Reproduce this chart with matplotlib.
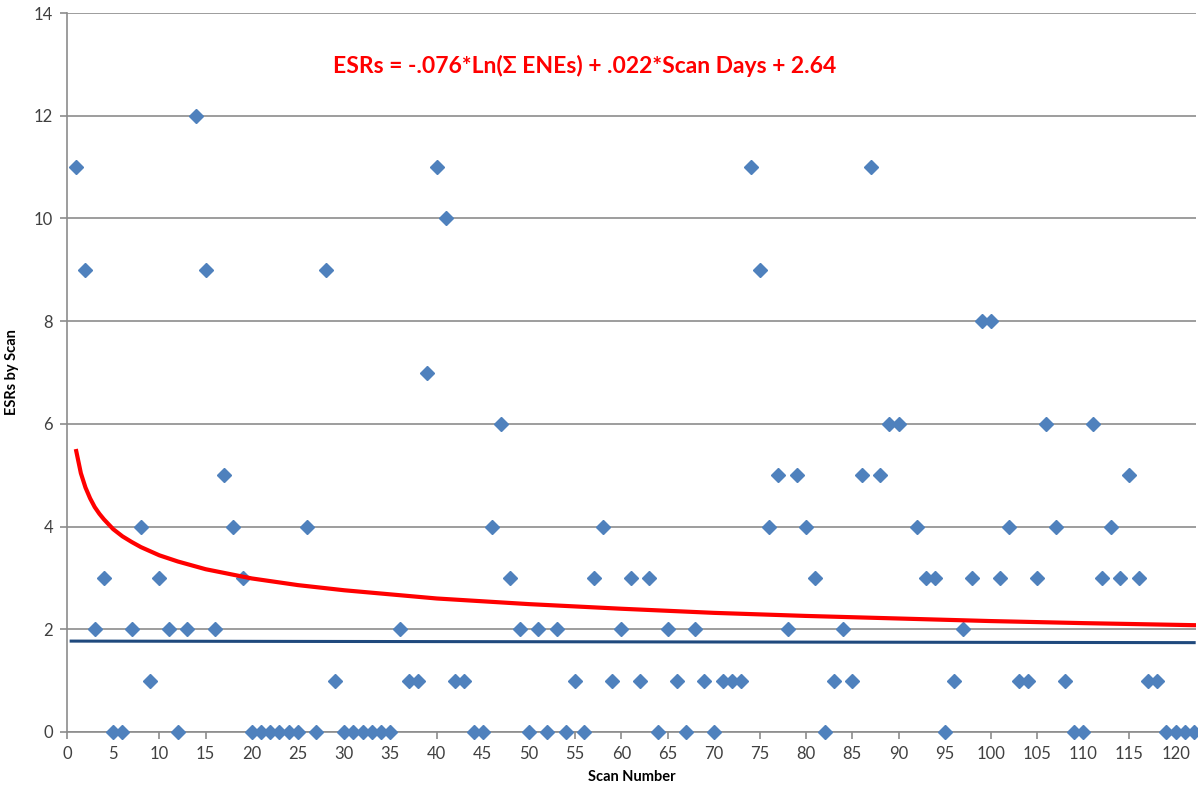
import numpy as np
import matplotlib
matplotlib.use("Agg")
from matplotlib import pyplot as plt

# ESRs per scan, scans 1..122 (scan 91 has no point)
scan = list(range(1, 123))
esrs = [11, 9, 2, 3, 0, 0, 2, 4, 1, 3,
        2, 0, 2, 12, 9, 2, 5, 4, 3, 0,
        0, 0, 0, 0, 0, 4, 0, 9, 1, 0,
        0, 0, 0, 0, 0, 2, 1, 1, 7, 11,
        10, 1, 1, 0, 0, 4, 6, 3, 2, 0,
        2, 0, 2, 0, 1, 0, 3, 4, 1, 2,
        3, 1, 3, 0, 2, 1, 0, 2, 1, 0,
        1, 1, 1, 11, 9, 4, 5, 2, 5, 4,
        3, 0, 1, 2, 1, 5, 11, 5, 6, 6,
        np.nan, 4, 3, 3, 0, 1, 2, 3, 8, 8,
        3, 4, 1, 1, 3, 6, 4, 1, 0, 0,
        6, 3, 4, 3, 5, 3, 1, 1, 0, 0,
        0, 0]

# red model curve
trend_x = [1, 1.5, 2, 2.5, 3, 3.5, 4, 5, 6, 7, 8, 10, 12, 15, 20, 25, 30, 40, 50,
           60, 70, 80, 90, 100, 110, 122]
trend_y = [5.47, 5.04, 4.76, 4.55, 4.38, 4.25, 4.14, 3.95, 3.81, 3.70, 3.60, 3.44,
           3.32, 3.17, 2.99, 2.86, 2.76, 2.60, 2.49, 2.40, 2.32, 2.26, 2.21, 2.16,
           2.12, 2.08]

# blue flat line
flat_x = [0.45, 122]
flat_y = [1.77, 1.74]

equation = "ESRs = -.076*Ln(\u03a3 ENEs) + .022*Scan Days + 2.64"

plt.rcParams['font.family'] = ['Lato', 'DejaVu Sans']

fig = plt.figure(figsize=(11.98, 7.86), dpi=100)
ax = fig.add_axes([67 / 1198, 1 - 732 / 786, (1196 - 67) / 1198, (732 - 13) / 786])

ax.plot(scan, esrs, linestyle='none', marker='D', markersize=7.2,
        color='#4F81BD', markeredgecolor='#4F81BD', zorder=3, clip_on=False)
ax.plot(trend_x, trend_y, color='#FF0000', linewidth=3.0, zorder=4,
        solid_joinstyle='round')
ax.plot(flat_x, flat_y, color='#1F497D', linewidth=2.2, zorder=4)

ax.text(28.8, 12.97, equation, color='#FF0000', fontsize=16.5, fontweight='bold',
        ha='left', va='center')

ax.set_xlim(0, 122.2)
ax.set_ylim(0, 14)
ax.set_xticks(range(0, 121, 5))
ax.set_yticks(range(0, 15, 2))
ax.grid(axis='y', color='#8C8C8C', linewidth=1.2)
ax.set_axisbelow(True)

for s in ['top', 'right']:
    ax.spines[s].set_visible(False)
for s in ['left', 'bottom']:
    ax.spines[s].set_color('#8C8C8C')
    ax.spines[s].set_linewidth(1.2)

ax.tick_params(direction='out', length=5, width=1.2, color='#8C8C8C',
               labelsize=12, labelcolor='#404040', pad=5)

ax.set_xlabel('Scan Number', fontsize=10.5, fontweight='bold', labelpad=6)
ax.set_ylabel('ESRs by Scan', fontsize=10.5, fontweight='bold', labelpad=11)

fig.savefig('out.png', dpi=100)
